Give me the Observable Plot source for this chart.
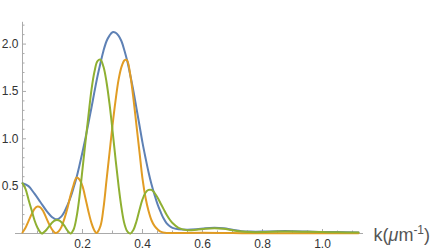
<!DOCTYPE html>
<html>
<head>
<meta charset="utf-8">
<script src="https://cdn.jsdelivr.net/npm/d3@7"></script>
<script src="https://cdn.jsdelivr.net/npm/@observablehq/plot@0.6"></script>
<style>
  html, body { margin: 0; padding: 0; background: white; }
</style>
</head>
<body>
<div id="chart"></div>
<script>
// ---- data ----
const kBlue = [0,0.02,0.04,0.06,0.08,0.10,0.11,0.12,0.13,0.14,0.15,0.16,0.17,0.18,0.19,0.20,0.21,0.22,0.23,0.24,0.25,0.26,0.27,0.28,0.29,0.30,0.31,0.32,0.33,0.34,0.35,0.36,0.37,0.38,0.39,0.40,0.41,0.42,0.43,0.44,0.45,0.46,0.47,0.48,0.49,0.50,0.52,0.55,0.58,0.61,0.64,0.67,0.70,0.73,0.76,0.80,0.85,0.90,0.95,1.00,1.05,1.12];
const vBlue = [0.53,0.50,0.42,0.33,0.24,0.17,0.15,0.155,0.18,0.23,0.30,0.38,0.48,0.59,0.72,0.86,1.01,1.17,1.33,1.50,1.66,1.80,1.93,2.03,2.09,2.125,2.12,2.09,2.03,1.93,1.81,1.66,1.50,1.32,1.14,0.96,0.80,0.65,0.52,0.41,0.31,0.23,0.16,0.11,0.08,0.06,0.045,0.04,0.045,0.055,0.06,0.055,0.04,0.025,0.02,0.02,0.025,0.025,0.02,0.015,0.015,0.01];

const kOrange = [0,0.01,0.02,0.03,0.04,0.05,0.06,0.07,0.08,0.09,0.10,0.11,0.12,0.13,0.14,0.15,0.16,0.17,0.18,0.19,0.20,0.21,0.22,0.23,0.24,0.247,0.26,0.27,0.28,0.29,0.30,0.31,0.32,0.33,0.34,0.345,0.35,0.36,0.37,0.38,0.39,0.40,0.41,0.42,0.43,0.44,0.45,0.46,0.48,0.50,0.60,0.70,0.80,1.00,1.12];
const vOrange = [0.01,0.06,0.13,0.20,0.26,0.285,0.275,0.23,0.16,0.09,0.035,0.005,0.02,0.07,0.16,0.27,0.40,0.51,0.59,0.57,0.50,0.37,0.23,0.11,0.03,0.005,0.08,0.27,0.56,0.85,1.14,1.40,1.62,1.76,1.83,1.835,1.82,1.66,1.42,1.14,0.86,0.58,0.38,0.24,0.14,0.08,0.045,0.02,0.006,0.004,0.008,0.004,0.003,0.003,0.002];

const kGreen = [0,0.01,0.02,0.03,0.04,0.05,0.06,0.065,0.07,0.08,0.09,0.10,0.11,0.12,0.13,0.14,0.15,0.16,0.17,0.18,0.19,0.20,0.21,0.22,0.23,0.24,0.25,0.26,0.27,0.28,0.29,0.30,0.31,0.32,0.33,0.34,0.35,0.36,0.37,0.38,0.39,0.40,0.41,0.42,0.43,0.44,0.45,0.46,0.47,0.48,0.49,0.50,0.52,0.55,0.58,0.61,0.64,0.67,0.70,0.73,0.76,0.80,0.85,0.90,0.95,1.00,1.05,1.12];
const vGreen = [0.53,0.47,0.36,0.25,0.14,0.06,0.01,0.0,0.01,0.04,0.08,0.12,0.14,0.14,0.12,0.08,0.03,0.0,0.04,0.17,0.39,0.68,0.97,1.25,1.52,1.71,1.82,1.835,1.76,1.60,1.37,1.09,0.79,0.51,0.27,0.10,0.02,0.0,0.04,0.13,0.25,0.36,0.43,0.46,0.46,0.43,0.38,0.32,0.26,0.20,0.15,0.11,0.06,0.035,0.04,0.05,0.055,0.05,0.035,0.02,0.015,0.015,0.02,0.022,0.018,0.015,0.012,0.01];

const xMajorTicks = [0.2,0.4,0.6,0.8,1.0];
const xMinorTicks = [0.05,0.1,0.15,0.25,0.3,0.35,0.45,0.5,0.55,0.65,0.7,0.75,0.85,0.9,0.95,1.05,1.1];
const yMajorTicks = [0.5,1.0,1.5,2.0];
const yMinorTicks = [0.1,0.2,0.3,0.4,0.6,0.7,0.8,0.9,1.1,1.2,1.3,1.4,1.6,1.7,1.8,1.9,2.1,2.2];
const xAxisLabel = "k(μm⁻¹)";

const seriesColors = {blue: "#5E81B5", orange: "#E19C24", green: "#8FB032"};

// ---- build table ----
const rows = [];
kBlue.forEach((k, i) => rows.push({series: "blue", k, v: vBlue[i]}));
kOrange.forEach((k, i) => rows.push({series: "orange", k, v: vOrange[i]}));
kGreen.forEach((k, i) => rows.push({series: "green", k, v: vGreen[i]}));

const xDomain = [0, 1.1367];
const yDomain = [0, 2.23];
const axisColor = "#aaaaaa";

const lineMark = (s) => Plot.line(rows.filter(d => d.series === s), {
  x: "k", y: "v", stroke: seriesColors[s], strokeWidth: 2, curve: "catmull-rom"
});

const chart = Plot.plot({
  width: 436,
  height: 252,
  marginLeft: 22,
  marginRight: 73,
  marginTop: 21.8,
  marginBottom: 19,
  style: {fontFamily: "'Liberation Sans', Arial, sans-serif", fontSize: "12px", background: "white", overflow: "visible"},
  x: {domain: xDomain, label: null},
  y: {domain: yDomain, label: null},
  marks: [
    Plot.ruleY([0], {x1: -0.0233, x2: xDomain[1], stroke: axisColor, strokeWidth: 1}),
    Plot.ruleX([0], {y1: 0, y2: yDomain[1], stroke: axisColor, strokeWidth: 1}),
    Plot.axisX(xMinorTicks, {anchor: "bottom", tickSize: -2.5, tickFormat: () => "", stroke: axisColor, label: null}),
    Plot.axisX(xMajorTicks, {anchor: "bottom", tickSize: -4, tickFormat: () => "", stroke: axisColor, label: null}),
    Plot.axisX(xMajorTicks, {anchor: "bottom", tickSize: 0, tickPadding: 6, tickFormat: d3.format(".1f"), fill: "#333", label: null}),
    Plot.axisY(yMinorTicks, {anchor: "left", tickSize: -2.5, tickFormat: () => "", stroke: axisColor, label: null}),
    Plot.axisY(yMajorTicks, {anchor: "left", tickSize: -4, tickFormat: () => "", stroke: axisColor, label: null}),
    Plot.axisY(yMajorTicks, {anchor: "left", tickSize: 0, tickPadding: 4, tickFormat: d3.format(".1f"), fill: "#333", label: null}),
    lineMark("blue"),
    lineMark("orange"),
    lineMark("green"),
    Plot.text([xAxisLabel], {x: xDomain[1], y: 0, text: d => d, dx: 10, dy: 2, textAnchor: "start", lineAnchor: "middle", fontSize: 18, fill: "#555", className: "xlabel"})
  ]
});
document.getElementById("chart").appendChild(chart);

// style the axis label: italic mu and superscript exponent (still real text)
const t = chart.querySelector(".xlabel text");
if (t) {
  t.textContent = "";
  const ns = "http://www.w3.org/2000/svg";
  const parts = [
    {s: "k(", a: {}},
    {s: "μ", a: {"font-style": "italic"}},
    {s: "m", a: {}},
    {s: "-1", a: {"font-size": "12", dy: "-7"}},
    {s: ")", a: {dy: "7"}}
  ];
  for (const p of parts) {
    const ts = document.createElementNS(ns, "tspan");
    for (const [k, v] of Object.entries(p.a)) ts.setAttribute(k, v);
    ts.textContent = p.s;
    t.appendChild(ts);
  }
}
</script>
</body>
</html>
